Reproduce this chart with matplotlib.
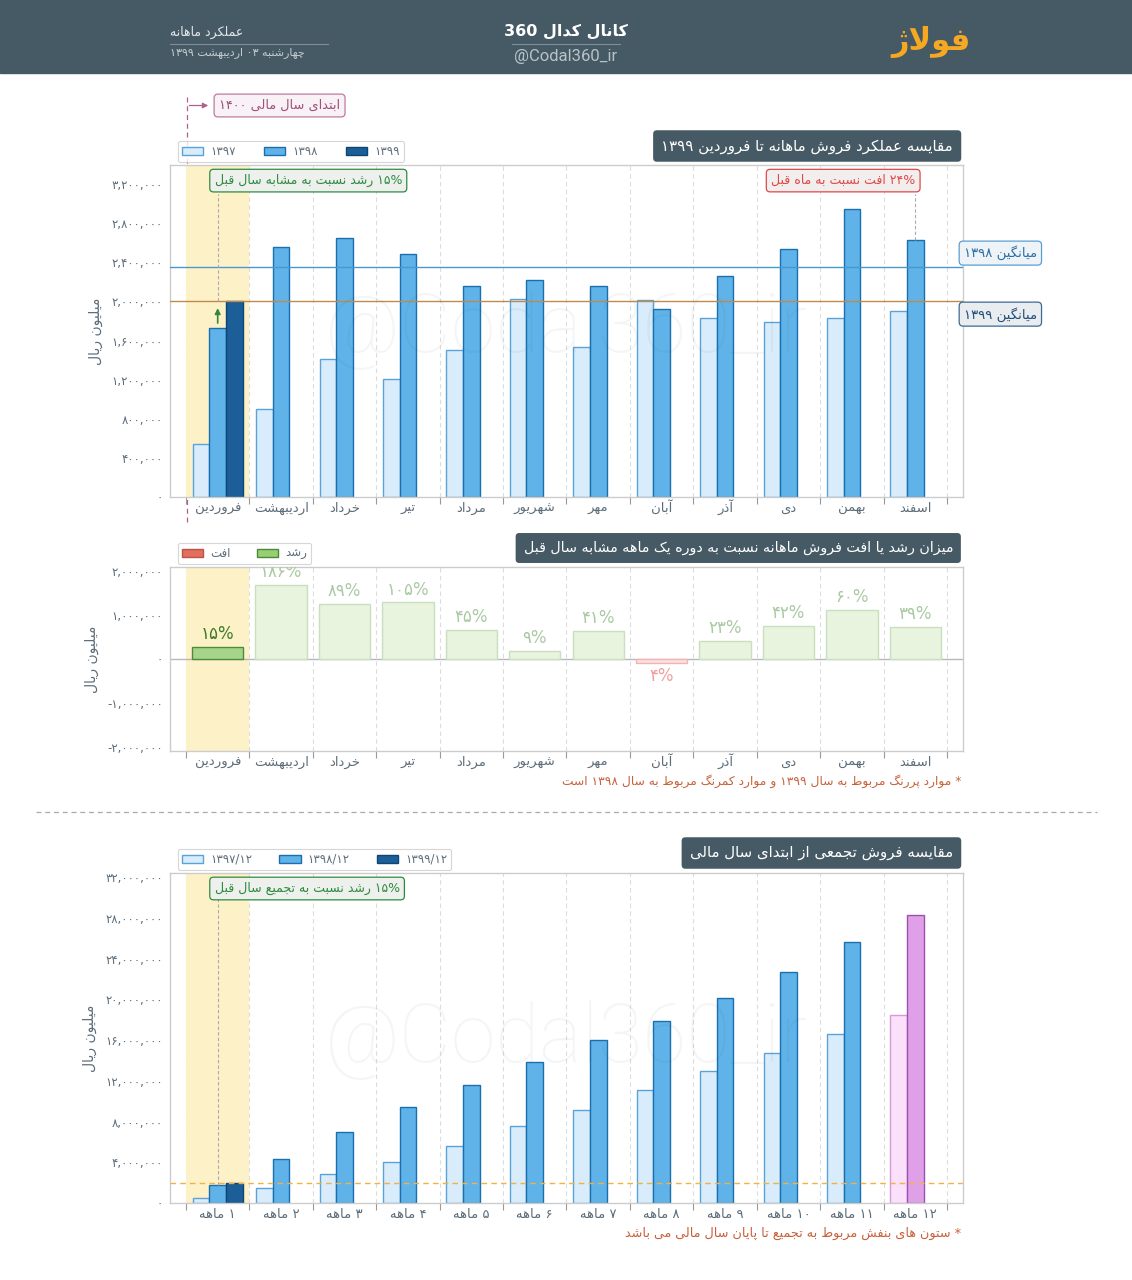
import re
import numpy as np
import matplotlib
matplotlib.use('Agg')
import matplotlib.pyplot as plt
from matplotlib.patches import Patch, Rectangle, FancyArrowPatch
from matplotlib.lines import Line2D

plt.rcParams['font.family'] = ['DejaVu Sans']

# ---- data (million rials) ----
months = ['فروردین', 'اردیبهشت', 'خرداد', 'تیر', 'مرداد', 'شهریور',
          'مهر', 'آبان', 'آذر', 'دی', 'بهمن', 'اسفند']
sales_1397 = [540000, 900000, 1410000, 1210000, 1500000, 2020000,
              1530000, 2010000, 1830000, 1790000, 1830000, 1900000]
sales_1398 = [1730000, 2560000, 2650000, 2480000, 2160000, 2220000,
              2160000, 1920000, 2260000, 2540000, 2940000, 2630000]
sales_1399 = [2000000]
avg_1398 = 2354000
avg_1399 = 2000000

growth = [270000, 1680000, 1260000, 1290000, 670000, 190000,
          630000, -90000, 420000, 760000, 1120000, 740000]
growth_pct = ['۱۵%', '۱۸۶%', '۸۹%', '۱۰۵%', '۴۵%', '۹%',
              '۴۱%', '۴%', '۲۳%', '۴۲%', '۶۰%', '۳۹%']

cum_labels = ['۱ ماهه', '۲ ماهه', '۳ ماهه', '۴ ماهه', '۵ ماهه', '۶ ماهه',
              '۷ ماهه', '۸ ماهه', '۹ ماهه', '۱۰ ماهه', '۱۱ ماهه', '۱۲ ماهه']
cum_1397 = [540000, 1440000, 2850000, 4060000, 5560000, 7580000,
            9110000, 11120000, 12950000, 14740000, 16570000, 18470000]
cum_1398 = [1730000, 4290000, 6940000, 9420000, 11580000, 13800000,
            15960000, 17880000, 20140000, 22680000, 25620000, 28250000]
cum_1399 = [2000000]

ticks_top = [0, 400000, 800000, 1200000, 1600000, 2000000, 2400000, 2800000, 3200000]
ticks_mid = [-2000000, -1000000, 0, 1000000, 2000000]
ticks_bot = [0, 4000000, 8000000, 12000000, 16000000, 20000000, 24000000, 28000000, 32000000]

# ---- persian text helpers (shaping + right-to-left order) ----
FORMS = {
    'ء': (0xFE80, None, None, None), 'آ': (0xFE81, 0xFE82, None, None),
    'أ': (0xFE83, 0xFE84, None, None), 'ؤ': (0xFE85, 0xFE86, None, None),
    'إ': (0xFE87, 0xFE88, None, None), 'ئ': (0xFE89, 0xFE8A, 0xFE8B, 0xFE8C),
    'ا': (0xFE8D, 0xFE8E, None, None), 'ب': (0xFE8F, 0xFE90, 0xFE91, 0xFE92),
    'ة': (0xFE93, 0xFE94, None, None), 'ت': (0xFE95, 0xFE96, 0xFE97, 0xFE98),
    'ث': (0xFE99, 0xFE9A, 0xFE9B, 0xFE9C), 'ج': (0xFE9D, 0xFE9E, 0xFE9F, 0xFEA0),
    'ح': (0xFEA1, 0xFEA2, 0xFEA3, 0xFEA4), 'خ': (0xFEA5, 0xFEA6, 0xFEA7, 0xFEA8),
    'د': (0xFEA9, 0xFEAA, None, None), 'ذ': (0xFEAB, 0xFEAC, None, None),
    'ر': (0xFEAD, 0xFEAE, None, None), 'ز': (0xFEAF, 0xFEB0, None, None),
    'س': (0xFEB1, 0xFEB2, 0xFEB3, 0xFEB4), 'ش': (0xFEB5, 0xFEB6, 0xFEB7, 0xFEB8),
    'ص': (0xFEB9, 0xFEBA, 0xFEBB, 0xFEBC), 'ض': (0xFEBD, 0xFEBE, 0xFEBF, 0xFEC0),
    'ط': (0xFEC1, 0xFEC2, 0xFEC3, 0xFEC4), 'ظ': (0xFEC5, 0xFEC6, 0xFEC7, 0xFEC8),
    'ع': (0xFEC9, 0xFECA, 0xFECB, 0xFECC), 'غ': (0xFECD, 0xFECE, 0xFECF, 0xFED0),
    'ف': (0xFED1, 0xFED2, 0xFED3, 0xFED4), 'ق': (0xFED5, 0xFED6, 0xFED7, 0xFED8),
    'ك': (0xFED9, 0xFEDA, 0xFEDB, 0xFEDC), 'ل': (0xFEDD, 0xFEDE, 0xFEDF, 0xFEE0),
    'م': (0xFEE1, 0xFEE2, 0xFEE3, 0xFEE4), 'ن': (0xFEE5, 0xFEE6, 0xFEE7, 0xFEE8),
    'ه': (0xFEE9, 0xFEEA, 0xFEEB, 0xFEEC), 'و': (0xFEED, 0xFEEE, None, None),
    'ى': (0xFEEF, 0xFEF0, None, None), 'ي': (0xFEF1, 0xFEF2, 0xFEF3, 0xFEF4),
    'پ': (0xFB56, 0xFB57, 0xFB58, 0xFB59), 'چ': (0xFB7A, 0xFB7B, 0xFB7C, 0xFB7D),
    'ژ': (0xFB8A, 0xFB8B, None, None), 'ک': (0xFB8E, 0xFB8F, 0xFB90, 0xFB91),
    'گ': (0xFB92, 0xFB93, 0xFB94, 0xFB95), 'ی': (0xFBFC, 0xFBFD, 0xFBFE, 0xFBFF),
}
LAM_ALEF = {'ا': (0xFEFB, 0xFEFC), 'آ': (0xFEF5, 0xFEF6),
            'أ': (0xFEF7, 0xFEF8), 'إ': (0xFEF9, 0xFEFA)}
LTR_RUN = re.compile(r'[0-9۰-۹A-Za-z@][0-9۰-۹A-Za-z@_%,./]*')


def joins_next(c):
    return c in FORMS and FORMS[c][2] is not None


def shape(text):
    out = []
    i = 0
    while i < len(text):
        c = text[i]
        if c not in FORMS:
            out.append(c)
            i += 1
            continue
        prev = text[i - 1] if i > 0 else ''
        jp = joins_next(prev) and FORMS[c][1] is not None
        if c == 'ل' and i + 1 < len(text) and text[i + 1] in LAM_ALEF:
            iso, fin = LAM_ALEF[text[i + 1]]
            out.append(chr(fin if jp else iso))
            i += 2
            continue
        nxt = text[i + 1] if i + 1 < len(text) else ''
        jn = joins_next(c) and nxt in FORMS and FORMS[nxt][1] is not None
        iso, fin, ini, med = FORMS[c]
        g = med if (jp and jn) else fin if jp else ini if jn else iso
        out.append(chr(g))
        i += 1
    return ''.join(out)


def fa(text):
    s = shape(text)
    parts, pos = [], 0
    for m in LTR_RUN.finditer(s):
        if m.start() > pos:
            parts.append(s[pos:m.start()][::-1])
        parts.append(m.group())
        pos = m.end()
    if pos < len(s):
        parts.append(s[pos:][::-1])
    return ''.join(parts[::-1])


def fa_num(v):
    return f'{int(v):,}'.translate(str.maketrans('0123456789', '۰۱۲۳۴۵۶۷۸۹'))


# ---- figure ----
W, H = 1132, 1280
fig = plt.figure(figsize=(W / 100, H / 100), dpi=100)
fig.patch.set_facecolor('white')


def fx(x):
    return x / W


def fy(y):
    return 1 - y / H


SLATE = '#465a65'
TXT = '#5d6d7a'

# header band
fig.add_artist(Rectangle((0, fy(73)), 1, 73 / H, transform=fig.transFigure,
                         color=SLATE, zorder=0))
fig.add_artist(Line2D([fx(170), fx(328)], [fy(44), fy(44)], color='#7d8e98', lw=0.8))
fig.add_artist(Line2D([fx(512), fx(620)], [fy(44), fy(44)], color='#7d8e98', lw=0.8))
fig.text(fx(170), fy(32), fa('عملکرد ماهانه'), ha='left', va='center',
         color='#e3e7ea', fontsize=9)
fig.text(fx(170), fy(53), fa('چهارشنبه ۰۳ اردیبهشت ۱۳۹۹'), ha='left', va='center',
         color='#c3cbd0', fontsize=8)
fig.text(fx(566), fy(31), fa('کانال کدال 360'), ha='center', va='center',
         color='white', fontsize=11.5, fontweight='bold')
fig.text(fx(566), fy(56), '@Codal360_ir', ha='center', va='center',
         color='#b8c3c9', fontsize=12, family=['Roboto', 'DejaVu Sans'])
fig.text(fx(931), fy(42), fa('فولاژ'), ha='center', va='center',
         color='#f7a823', fontsize=22, fontweight='bold')

# colours
C97, E97 = '#d8ecfb', '#5aa3d8'
C98, E98 = '#5fb3e8', '#1a6fae'
C99, E99 = '#1b5e98', '#0f4574'
P97, PE97 = '#fbe0fb', '#d49ad8'
P98, PE98 = '#e0a0e8', '#9b4fb0'
GREEN = '#2e8b3e'

x = np.arange(12)
bw = 0.262


def box_title(y, text, size):
    fig.text(fx(953), fy(y), fa(text), ha='right', va='center', color='white',
             fontsize=size,
             bbox=dict(boxstyle='round,pad=0.55,rounding_size=0.25', fc=SLATE, ec='none'))


def base_axes(rect, ylim, yticks, xlabels):
    ax = fig.add_axes(rect)
    ax.set_xlim(-0.752, 11.752)
    ax.set_ylim(*ylim)
    for s in ax.spines.values():
        s.set_color('#cccccc')
        s.set_linewidth(1)
    ax.set_xticks(np.arange(-0.5, 12, 1))
    ax.set_xticklabels([])
    ax.set_xticks(x, minor=True)
    ax.set_xticklabels([fa(m) for m in xlabels], minor=True)
    ax.tick_params(axis='x', which='major', length=5, color='#999999')
    ax.tick_params(axis='x', which='minor', length=0, pad=11, labelsize=9.5,
                   labelcolor=TXT)
    for lbl in ax.get_xticklabels(minor=True):
        lbl.set_va('baseline')
    ax.set_yticks(yticks)
    ax.set_yticklabels([fa_num(v) for v in yticks])
    ax.tick_params(axis='y', length=0, pad=5, labelsize=8.5, labelcolor=TXT)
    for b in np.arange(-0.5, 12, 1):
        ax.axvline(b, color='#dcdcdc', ls=(0, (4, 3)), lw=0.8, zorder=0)
    ax.axvspan(-0.5, 0.5, color='#fdf1c8', zorder=0, lw=0)
    ax.set_ylabel(fa('میلیون ریال'), color=TXT, fontsize=10, labelpad=6)
    return ax


def note_box(ax, xd, yfrac, text, color, fc, ha):
    ax.annotate(fa(text), xy=(xd, yfrac), xycoords=('data', 'axes fraction'),
                ha=ha, va='center', color=color, fontsize=9, zorder=6,
                bbox=dict(boxstyle='round,pad=0.38,rounding_size=0.3', fc=fc, ec=color, lw=0.9))


def legend(ax, labels, handles, ncol, spacing):
    lg = ax.legend(handles, labels, loc='lower left', bbox_to_anchor=(0.006, 1.0),
                   ncol=ncol, fontsize=8.5, frameon=True, handlelength=1.8,
                   handleheight=0.7, columnspacing=spacing, handletextpad=0.6,
                   borderpad=0.35, borderaxespad=0.25, fancybox=True)
    lg.get_frame().set_edgecolor('#cccccc')
    lg.get_frame().set_linewidth(0.8)
    for t in lg.get_texts():
        t.set_color(TXT)


# ================= top chart: monthly sales =================
ax1 = base_axes([fx(170), fy(497), 793 / W, 332 / H], (0, 3395000), ticks_top, months)
ax1.bar(x - bw, sales_1397, bw, color=C97, edgecolor=E97, lw=1, zorder=2)
ax1.bar(x, sales_1398, bw, color=C98, edgecolor=E98, lw=1, zorder=2)
ax1.bar(x[:len(sales_1399)] + bw, sales_1399, bw, color=C99, edgecolor=E99, lw=1, zorder=2)
ax1.axhline(avg_1398, color='#4a98d0', lw=1, zorder=3)
ax1.axhline(avg_1399, color='#bf8a4f', lw=1, zorder=3)

ax1.annotate(fa('میانگین ۱۳۹۸'), xy=(1.0, avg_1398), xycoords=('axes fraction', 'data'),
             xytext=(1.001, avg_1398 + 140000), textcoords=('axes fraction', 'data'),
             ha='left', va='center', color='#2a6fa8', fontsize=9.5, annotation_clip=False,
             bbox=dict(boxstyle='round,pad=0.35,rounding_size=0.3', fc='#eef3f8', ec='#5a9fd4', lw=0.9))
ax1.annotate(fa('میانگین ۱۳۹۹'), xy=(1.0, avg_1399), xycoords=('axes fraction', 'data'),
             xytext=(1.001, avg_1399 - 130000), textcoords=('axes fraction', 'data'),
             ha='left', va='center', color='#1f4e79', fontsize=9.5, annotation_clip=False,
             bbox=dict(boxstyle='round,pad=0.35,rounding_size=0.3', fc='#e9edf0', ec='#3b6b94', lw=0.9))

# growth vs last year (Farvardin) and drop vs last month (Esfand)
ax1.plot([0, 0], [sales_1399[0], 3100000], ls=(0, (3, 2)), color='#aaaaaa', lw=0.8, zorder=4)
ax1.annotate('', xy=(0, sales_1399[0] - 40000), xytext=(0, sales_1398[0] + 20000),
             arrowprops=dict(arrowstyle='-|>', color=GREEN, lw=1.2, mutation_scale=8), zorder=5)
note_box(ax1, -0.05, 0.953, '۱۵% رشد نسبت به مشابه سال قبل', GREEN, '#eef0ee', 'left')
ax1.plot([11, 11], [sales_1398[11], 3100000], ls=(0, (3, 2)), color='#aaaaaa', lw=0.8, zorder=4)
note_box(ax1, 11.0, 0.953, '۲۴% افت نسبت به ماه قبل', '#e04848', '#f3eeee', 'right')

legend(ax1, ['۱۳۹۷', '۱۳۹۸', '۱۳۹۹'],
       [Patch(fc=C97, ec=E97), Patch(fc=C98, ec=E98), Patch(fc=C99, ec=E99)], 3, 2.4)
box_title(146, 'مقایسه عملکرد فروش ماهانه تا فروردین ۱۳۹۹', 10.8)

# start of fiscal year marker (hidden behind the chart panel, as in the original)
PINK = '#b0608e'
fig.add_artist(Line2D([fx(186.5), fx(186.5)], [fy(97), fy(523)], color=PINK,
                      ls=(0, (4, 3)), lw=0.9, zorder=-1))
fig.text(fx(219), fy(105.5), fa('ابتدای سال مالی ۱۴۰۰'), ha='left', va='center',
         color='#a0507a', fontsize=9.3,
         bbox=dict(boxstyle='round,pad=0.38,rounding_size=0.3', fc='#f8f1f5', ec='#c07a9f', lw=0.9))
fig.add_artist(FancyArrowPatch(
    (fx(186.5), fy(105.5)), (fx(211), fy(105.5)), transform=fig.transFigure,
    arrowstyle='-|>', mutation_scale=8, color=PINK, lw=0.9))

# ================= middle chart: growth =================
ax2 = base_axes([fx(170), fy(751), 793 / W, 184 / H], (-2100000, 2100000), ticks_mid, months)
ax2.axhline(0, color='#b8b8b8', lw=1, zorder=1)
for i, v in enumerate(growth):
    if i == 0:
        fc, ec, tc = '#a6d488', '#4d8c3c', '#3c7a2a'
    elif v >= 0:
        fc, ec, tc = '#e8f4de', '#c9dfc0', '#a9c9a3'
    else:
        fc, ec, tc = '#fbe1e1', '#f2b3b3', '#ef9f9f'
    ax2.bar(i, v, 0.81, color=fc, edgecolor=ec, lw=1, zorder=2)
    off = 90000 if v >= 0 else -90000
    ax2.text(i, v + off, growth_pct[i], ha='center', va='bottom' if v >= 0 else 'top',
             color=tc, fontsize=12, clip_on=True, zorder=3)
legend(ax2, [fa('افت'), fa('رشد')],
       [Patch(fc='#e0705c', ec='#c0504d'), Patch(fc='#97cf72', ec='#4a8a3a')], 2, 2.2)
box_title(548, 'میزان رشد یا افت فروش ماهانه نسبت به دوره یک ماهه مشابه سال قبل', 10.3)
fig.text(fx(961), fy(781), fa('* موارد پررنگ مربوط به سال ۱۳۹۹ و موارد کمرنگ مربوط به سال ۱۳۹۸ است'),
         ha='right', va='center', color='#c8603a', fontsize=8.8)

fig.add_artist(Line2D([fx(36), fx(1097)], [fy(812), fy(812)], color='#aaaaaa',
                      ls=(0, (4, 3)), lw=0.9))

# ================= bottom chart: cumulative =================
ax3 = base_axes([fx(170), fy(1203), 793 / W, 330 / H], (0, 32400000), ticks_bot, cum_labels)
c97 = [P97 if i == 11 else C97 for i in x]
e97 = [PE97 if i == 11 else E97 for i in x]
c98 = [P98 if i == 11 else C98 for i in x]
e98 = [PE98 if i == 11 else E98 for i in x]
ax3.bar(x - bw, cum_1397, bw, color=c97, edgecolor=e97, lw=1, zorder=2)
ax3.bar(x, cum_1398, bw, color=c98, edgecolor=e98, lw=1, zorder=2)
ax3.bar(x[:len(cum_1399)] + bw, cum_1399, bw, color=C99, edgecolor=E99, lw=1, zorder=2)
ax3.axhline(cum_1399[0], color='#f5b041', ls=(0, (4, 3)), lw=1, zorder=3)
ax3.plot([0, 0], [cum_1398[0], 31000000], ls=(0, (3, 2)), color='#aaaaaa', lw=0.8, zorder=4)
note_box(ax3, -0.05, 0.953, '۱۵% رشد نسبت به تجمیع سال قبل', GREEN, '#eef0ee', 'left')
legend(ax3, ['۱۳۹۷/۱۲', '۱۳۹۸/۱۲', '۱۳۹۹/۱۲'],
       [Patch(fc=C97, ec=E97), Patch(fc=C98, ec=E98), Patch(fc=C99, ec=E99)], 3, 2.3)
box_title(853, 'مقایسه فروش تجمعی از ابتدای سال مالی', 10.8)
fig.text(fx(961), fy(1233), fa('* ستون های بنفش مربوط به تجمیع تا پایان سال مالی می باشد'),
         ha='right', va='center', color='#c8603a', fontsize=9.2)

# watermarks
for wy in (330, 1040):
    fig.text(fx(566), fy(wy), '@Codal360_ir', ha='center', va='center', fontsize=58,
             color='#34495e', alpha=0.05, family=['Roboto', 'DejaVu Sans'],
             fontweight='light', zorder=10)

fig.savefig('out.png', dpi=100)
